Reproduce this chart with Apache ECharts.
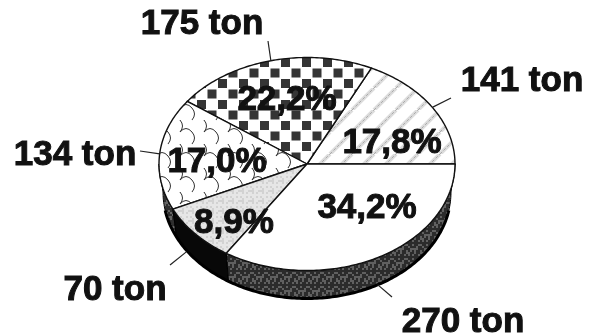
<!DOCTYPE html>
<html><head><meta charset="utf-8">
<style>html,body{margin:0;padding:0;background:#fff}#c{width:595px;height:336px;filter:blur(0.65px)}</style>
<script src="https://cdn.jsdelivr.net/npm/echarts@6/dist/echarts.min.js"></script>
</head><body><div id="c"></div>
<script>
// data (counter-clockwise from 3 o'clock)
var categories = ['141 ton','175 ton','134 ton','70 ton','270 ton'];
var tons = [141,175,134,70,270];
var percents = ['17,8%','22,2%','17,0%','8,9%','34,2%'];

// layout
var CX=307, CY=164, RX=148, RY=106.5, DEPTH=28, RX_BOTTOM=144;
var pctPos=[[392,143],[287,100],[217,162],[234,223],[367,208]];
var tagPos=[[522,81],[202,24],[75,155],[115,290],[463,322]];
var leadEnd=[[451,98],[268,41],[140,151],[170,265],[392,297]];
var leadShift=[[0,0],[0,0],[0,0],[-9,18],[0,27]];

function tile(w,h,draw){var c=document.createElement('canvas');c.width=w;c.height=h;var g=c.getContext('2d');g.fillStyle='#fff';g.fillRect(0,0,w,h);draw(g,w,h);return {image:c,repeat:'repeat'};}
function stipple(base,light,w){return tile(w,w,function(g){g.fillStyle=base;g.fillRect(0,0,w,w);
  for(var x=0;x<w;x+=2)for(var y=0;y<w;y+=2){var k=(x*7+y*13+x*y)%11;if(k<4){g.fillStyle=light;g.fillRect(x,y,2,2);}}});}
var fills=[
 tile(22,22,function(g,w,h){ // hatch
   for(var i=-22;i<=22;i+=22){g.strokeStyle='#dcdcdc';g.lineWidth=4;g.beginPath();g.moveTo(i,22);g.lineTo(i+22,0);g.stroke();
     g.strokeStyle='#aaaaaa';g.lineWidth=1;g.setLineDash([3,2]);g.beginPath();g.moveTo(i,22);g.lineTo(i+22,0);g.stroke();g.setLineDash([]);}
 }),
 tile(21,21,function(g){ // checker
   g.fillStyle='#353535';
   [[2,10],[12.5,20.5],[12.5,-0.5],[23,10],[-8.5,20.5],[-8.5,-0.5]].forEach(function(p){g.fillRect(p[0]-4.5,p[1]-4.5,9,9);});
 }),
 tile(24,24,function(g){ // scalloped stair waves
   g.strokeStyle='#333';g.lineWidth=1;
   [-24,0,24].forEach(function(o){g.beginPath();g.moveTo(o,0);
     for(var i=0;i<2;i++){var x=o+i*12,y=i*12;
       g.quadraticCurveTo(x+6,y-7,x+12,y);
       g.quadraticCurveTo(x+17,y+6,x+12,y+12);}
     g.stroke();});
 }),
 stipple('#e6e6e6','#d2d2d2',10),
 '#ffffff'
];
var sideFills=[null,null,stipple('#2f2f2f','#666666',12),'#080808',stipple('#2b2b2b','#606060',14)];

var total=tons.reduce(function(a,b){return a+b;},0);
var edges=[0];tons.forEach(function(v,i){edges.push(edges[i]+v/total*360);});
function pt(deg){var r=deg*Math.PI/180;return [CX+RX*Math.cos(r),CY-RY*Math.sin(r)];}
function ptB(deg){var r=deg*Math.PI/180;return [CX+RX_BOTTOM*Math.cos(r),CY+DEPTH-RY*Math.sin(r)];}
function arc(f,a,b){var out=[],n=Math.max(2,Math.ceil(Math.abs(b-a)));for(var i=0;i<=n;i++)out.push(f(a+(b-a)*i/n));return out;}
var idx=tons.map(function(v,i){return [i];});

var option={animation:false,backgroundColor:'#fff',series:[
 {type:'custom',coordinateSystem:'none',silent:true,data:idx,z:1,renderItem:function(p,api){
   var i=api.value(0),a=Math.max(edges[i],180),b=edges[i+1];
   if(b<=180)return {type:'group',children:[]};
   var pts=arc(pt,a,b).concat(arc(ptB,b,a));
   return {type:'polygon',shape:{points:pts},style:{fill:sideFills[i],stroke:'#000',lineWidth:1}};
 }},
 {type:'custom',coordinateSystem:'none',silent:true,data:[[0]],z:2,renderItem:function(){
   return {type:'polyline',shape:{points:arc(ptB,190,350)},style:{fill:null,stroke:'#000',lineWidth:3}};
 }},
 {type:'custom',coordinateSystem:'none',silent:true,data:idx,z:3,renderItem:function(p,api){
   var i=api.value(0);
   var pts=[[CX,CY]].concat(arc(pt,edges[i],edges[i+1]));
   return {type:'polygon',shape:{points:pts},style:{fill:fills[i],stroke:'#111',lineWidth:1.4}};
 }},
 {type:'custom',coordinateSystem:'none',silent:true,data:idx,z:4,renderItem:function(p,api){
   var i=api.value(0),m=(edges[i]+edges[i+1])/2,s=pt(m);
   return {type:'group',children:[
     {type:'line',shape:{x1:s[0]+leadShift[i][0],y1:s[1]+leadShift[i][1],x2:leadEnd[i][0],y2:leadEnd[i][1]},style:{stroke:'#222',lineWidth:1.2}},
     {type:'text',x:tagPos[i][0],y:tagPos[i][1],style:{text:categories[i],fill:'#111',stroke:'#111',lineWidth:1,align:'center',verticalAlign:'middle',font:'bold 35px "Liberation Sans"'}},
     {type:'text',x:pctPos[i][0],y:pctPos[i][1],style:{text:percents[i],fill:'#111',stroke:'#111',lineWidth:1,align:'center',verticalAlign:'middle',font:'bold 35px "Liberation Sans"'}}
   ]};
 }}
]};
echarts.init(document.getElementById('c'),null,{renderer:'canvas'}).setOption(option);
</script></body></html>
